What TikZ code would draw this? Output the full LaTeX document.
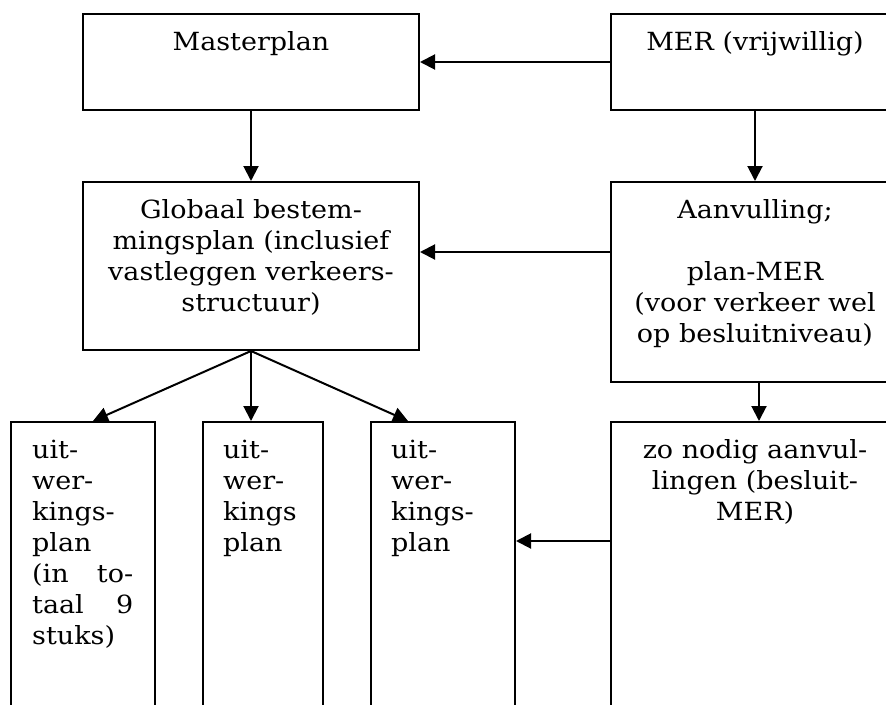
\documentclass[tikz,border=0pt]{standalone}
\usepackage{fontspec}
\setmainfont{DejaVu Serif}[FakeStretch=1.08]
\usetikzlibrary{arrows.meta}
\begin{document}
\begin{tikzpicture}[x=1pt,y=-1pt,
  box/.style={draw, line width=2pt, rectangle, inner sep=0pt},
  txt/.style={anchor=north, inner sep=0pt, align=center, font=\fontsize{25}{31}\selectfont},
  ltxt/.style={anchor=north west, inner sep=0pt, align=left, font=\fontsize{25}{31}\selectfont},
  arr/.style={line width=2pt, -{Triangle[length=15pt,width=15pt]}}]
\useasboundingbox (0,0) rectangle (886,704);
\clip (0,0) rectangle (886,704);
\node[box, minimum width=336pt, minimum height=96pt] (M) at (251,62) {};
\node[box, minimum width=288pt, minimum height=96pt] (E) at (755,62) {};
\node[box, minimum width=336pt, minimum height=168pt] (G) at (251,266) {};
\node[box, minimum width=288pt, minimum height=200pt] (A) at (755,282) {};
\node[box, minimum width=144pt, minimum height=318pt] (U1) at (83,581) {};
\node[box, minimum width=120pt, minimum height=318pt] (U2) at (263,581) {};
\node[box, minimum width=144pt, minimum height=318pt] (U3) at (443,581) {};
\node[box, minimum width=288pt, minimum height=318pt] (Z) at (755,581) {};

\node[txt] (tM) at (251,28.3) {\strut Masterplan};
\node[txt] (tE) at (755,28.3) {\strut MER (vrijwillig)};
\node[txt] (tG) at (251,196.3) {\strut Globaal bestem-\\mingsplan (inclusief\\vastleggen verkeers-\\structuur)};
\node[txt] (tA) at (755,196.3) {\strut Aanvulling;\\\mbox{}\\plan-MER\\(voor verkeer wel\\op besluitniveau)};
\node[ltxt] (tU1) at (32,436.3) {\strut uit-\\wer-\\kings-\\plan\\\hbox to 101pt{(in\hfill to-}\\\hbox to 101pt{taal\hfill 9}\\stuks)};
\node[ltxt] (tU2) at (223,436.3) {\strut uit-\\wer-\\kings\\plan};
\node[ltxt] (tU3) at (391,436.3) {\strut uit-\\wer-\\kings-\\plan};
\node[txt] (tZ) at (755,436.3) {\strut zo nodig aanvul-\\lingen (besluit-\\MER)};

\draw[arr] (E.west) -- (M.east);
\draw[arr] (M.south) -- (G.north);
\draw[arr] (E.south) -- (A.north);
\draw[arr] ([yshift=-71pt]A.north west) -- ([yshift=-71pt]G.north east);
\draw[arr] ([xshift=4pt]A.south) -- ([xshift=4pt]Z.north);
\draw[arr] ([yshift=-120pt]Z.north west) -- ([yshift=-120pt]U3.north east);
\draw[arr] (G.south) -- ([xshift=10pt]U1.north);
\draw[arr] (G.south) -- (G.south |- U2.north);
\draw[arr] (G.south) -- ([xshift=-35pt]U3.north);
\end{tikzpicture}
\end{document}
